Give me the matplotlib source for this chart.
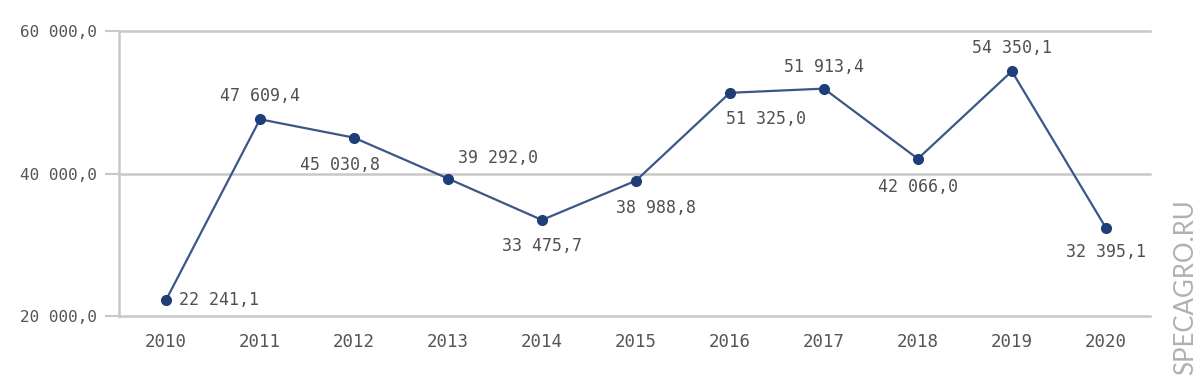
import matplotlib.pyplot as plt

years = [2010, 2011, 2012, 2013, 2014, 2015, 2016, 2017, 2018, 2019, 2020]
values = [22241.1, 47609.4, 45030.8, 39292.0, 33475.7, 38988.8,
          51325.0, 51913.4, 42066.0, 54350.1, 32395.1]
y_ticks = [20000, 40000, 60000]
y_tick_labels = ['20 000,0', '40 000,0', '60 000,0']

# label offsets in pixels (dx, dy) relative to each point
offsets = [(13, 0), (0, 23), (-14, -27), (50, 21), (0, -26), (20, -27),
           (36, -26), (0, 22), (0, -28), (0, 23), (0, -24)]


def fmt(v):
    s = f'{v:,.1f}'
    return s.replace(',', ' ').replace('.', ',')


fig = plt.figure(figsize=(12, 3.79), dpi=100)
ax = fig.add_axes([119 / 1200, 1 - 316 / 379, (1150 - 119) / 1200, (316 - 31) / 379])

ax.plot(years, values, color='#3b5689', lw=1.6, zorder=3)
ax.plot(years, values, 'o', color='#1f3d78', ms=7, zorder=4)

for x, v, (dx, dy) in zip(years, values, offsets):
    ha = 'left' if dx == 13 else 'center'
    ax.annotate(fmt(v), (x, v), xytext=(dx, dy), textcoords='offset pixels',
                ha=ha, va='center', fontsize=12, color='#505050',
                family='DejaVu Sans Mono')

ax.set_xlim(2009.5, 2020.47)
ax.set_ylim(20000, 60000)
ax.set_xticks(years)
ax.set_xticklabels([str(y) for y in years], family='DejaVu Sans Mono',
                   fontsize=12.5, color='#555555')
ax.set_yticks(y_ticks)
ax.set_yticklabels(y_tick_labels, family='DejaVu Sans Mono', fontsize=11.5,
                   color='#555555')
ax.tick_params(axis='x', length=0, pad=12)
ax.tick_params(axis='y', length=10, width=1.5, color='#c8c8c8', pad=5.5)

for y in y_ticks:
    ax.axhline(y, color='#c8c8c8', lw=1.8, zorder=1, clip_on=False)
for s in ['top', 'right', 'bottom']:
    ax.spines[s].set_visible(False)
ax.spines['left'].set_color('#c8c8c8')
ax.spines['left'].set_linewidth(1.8)

fig.text(1186 / 1200, 1 - 287 / 379, 'SPECAGRO.RU', rotation=90,
         ha='center', va='center', fontsize=18.5, color='#b0b0b0',
         family='Lato', fontweight='normal')

fig.savefig('out.png', dpi=100)
